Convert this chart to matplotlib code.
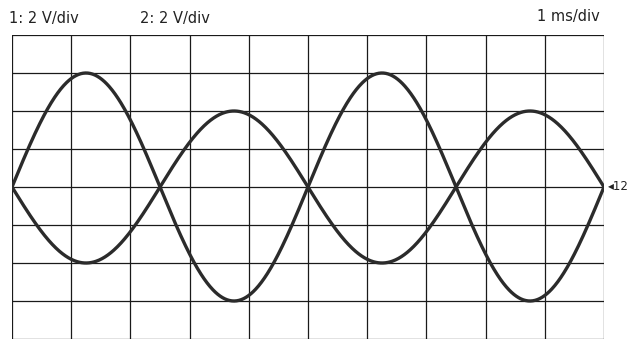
import numpy as np
import matplotlib
matplotlib.use("Agg")
import matplotlib.pyplot as plt

# scope settings
ch_labels = ["1: 2 V/div", "2: 2 V/div"]
time_label = "1 ms/div"
n_xdiv = 10
n_ydiv = 8

# traces, in divisions (2 V/div, 1 ms/div)
amplitude_div = [3.0, -2.0]   # ch2 is inverted relative to ch1
period_div = 5.0
phase_deg = [0.0, 0.0]

fig = plt.figure(figsize=(6.34, 3.41), dpi=100)
ax = fig.add_axes([12 / 634, 2 / 341, 592 / 634, 304 / 341])

t = np.linspace(0, n_xdiv, 1000)
for a, ph in zip(amplitude_div, phase_deg):
    y = a * np.sin(2 * np.pi * t / period_div + np.radians(ph))
    ax.plot(t, y, color="#2b2b2b", lw=2.4, solid_capstyle="round", zorder=3)

for i in range(n_xdiv + 1):
    ax.axvline(i, color="#1a1a1a", lw=0.9, zorder=1)
for j in range(n_ydiv + 1):
    ax.axhline(j - n_ydiv / 2, color="#1a1a1a", lw=0.9, zorder=1)

ax.set_xlim(0, n_xdiv)
ax.set_ylim(-n_ydiv / 2, n_ydiv / 2)
ax.set_xticks([])
ax.set_yticks([])
for s in ax.spines.values():
    s.set_visible(False)

fig.text(9 / 634, 1 - 18 / 341, ch_labels[0], fontsize=10.5, color="#222222", va="center")
fig.text(140 / 634, 1 - 18 / 341, ch_labels[1], fontsize=10.5, color="#222222", va="center")
fig.text(600 / 634, 1 - 16 / 341, time_label, fontsize=10.5, color="#222222", va="center", ha="right")
ax.annotate("◂12", xy=(n_xdiv, 0), xytext=(3, 0), textcoords="offset points",
            fontsize=8.5, color="#222222", va="center", ha="left", annotation_clip=False)

fig.savefig("out.png", dpi=100, facecolor="white")
